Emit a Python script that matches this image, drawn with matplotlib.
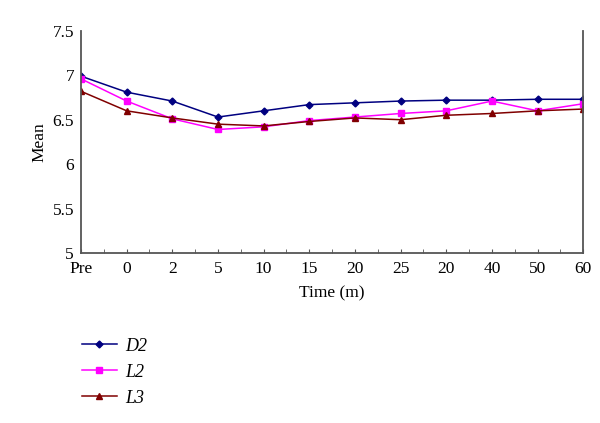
import numpy as np
import matplotlib.pyplot as plt

# データ
labels = ['Pre', '0', '2', '5', '10', '15', '20', '25', '20', '40', '50', '60']
d2 = [6.99, 6.81, 6.71, 6.53, 6.60, 6.67, 6.69, 6.71, 6.72, 6.72, 6.73, 6.73]
l2 = [6.96, 6.71, 6.51, 6.39, 6.42, 6.49, 6.53, 6.57, 6.60, 6.71, 6.60, 6.68]
l3 = [6.82, 6.60, 6.52, 6.45, 6.43, 6.48, 6.52, 6.50, 6.55, 6.57, 6.60, 6.62]

plt.rcParams['font.family'] = ['Liberation Serif', 'DejaVu Serif']

fig = plt.figure(figsize=(6, 4.23), dpi=100)
ax = fig.add_axes([0.135, 0.402, 0.837, 0.525])

x = np.arange(len(labels))
ax.plot(x, d2, color='#000080', marker='D', markersize=3.5, lw=1.1, label='D2')
ax.plot(x, l2, color='#ff00ff', marker='s', markersize=4.5, lw=1.1, label='L2')
ax.plot(x, l3, color='#800000', marker='^', markersize=5, lw=1.1, label='L3')

# グラフの装飾
ax.set_xlim(0, len(labels) - 1)
ax.set_ylim(5, 7.5)
ax.set_yticks(np.arange(5, 7.51, 0.5))
ax.set_yticklabels(['5', '5.5', '6', '6.5', '7', '7.5'])
ax.set_xticks(x)
ax.set_xticklabels(labels)
ax.set_xticks(np.arange(0.5, len(labels) - 1, 1), minor=True)
ax.tick_params(axis='x', which='both', direction='in', length=3, labelsize=12.5, pad=6, colors='#555555', labelcolor='black')
ax.tick_params(axis='y', direction='in', length=0, labelsize=12.5, pad=5, labelcolor='black')
ax.spines['top'].set_visible(False)
for s in ['left', 'right', 'bottom']:
    ax.spines[s].set_color('#555555')
    ax.spines[s].set_linewidth(1.3)

ax.set_xlabel('Time (m)', fontsize=12.5, labelpad=6)
ax.set_ylabel('Mean', fontsize=12.5, labelpad=4)

fig.legend(loc='upper left', bbox_to_anchor=(0.11, 0.24), frameon=False,
           prop={'family': 'Liberation Serif', 'style': 'italic', 'size': 13},
           handlelength=1.9, labelspacing=0.5, handletextpad=0.5)

plt.savefig('out.png', dpi=100)
